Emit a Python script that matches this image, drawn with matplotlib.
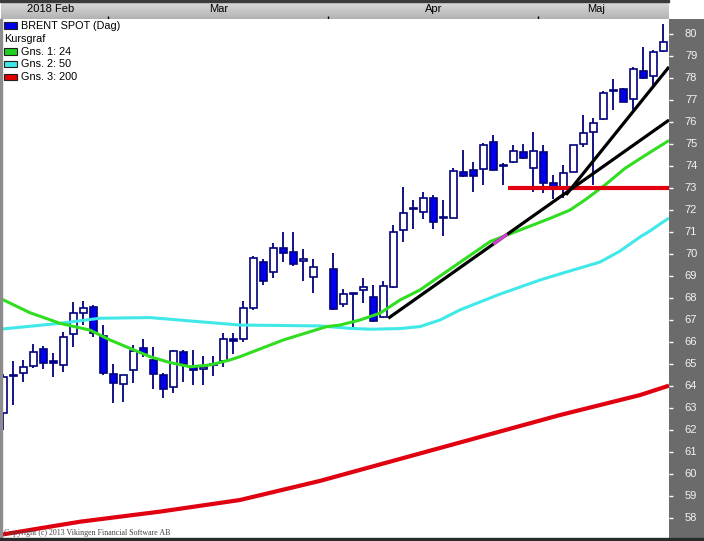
import numpy as np
import matplotlib.pyplot as plt
from matplotlib.patches import Rectangle

plt.rcParams['font.family'] = ['Liberation Sans', 'DejaVu Sans']

W, H = 704, 541

# daily candles (index = trading day slot, 32 = holiday, left empty)
day_idx = [0, 1, 2, 3, 4, 5, 6, 7, 8, 9, 10, 11, 12, 13, 14, 15, 16, 17, 18, 19,
           20, 21, 22, 23, 24, 25, 26, 27, 28, 29, 30, 31, 33, 34, 35, 36, 37, 38, 39, 40,
           41, 42, 43, 44, 45, 46, 47, 48, 49, 50, 51, 52, 53, 54, 55, 56, 57, 58, 59, 60,
           61, 62, 63, 64, 65, 66]
opens = [62.73, 64.43, 64.54, 64.86, 65.64, 65.05, 64.91, 66.32, 67.27, 67.58,
         66.24, 64.51, 64.04, 64.69, 65.68, 65.15, 64.45, 63.90, 65.53, 64.84,
         64.72, 64.95, 65.10, 66.10, 66.09, 67.50, 69.63, 69.14, 70.24, 70.05,
         69.67, 68.94, 69.28, 67.69, 68.20, 68.34, 68.00, 67.09, 68.49, 71.07,
         72.05, 71.88, 72.51, 71.67, 71.63, 73.70, 73.80, 73.84, 75.07, 74.01,
         74.18, 74.61, 73.88, 74.61, 73.20, 73.04, 73.73, 74.97, 75.55, 76.11,
         77.44, 77.49, 77.02, 78.33, 78.09, 79.24]
highs = [64.51, 65.12, 65.15, 65.88, 65.79, 65.45, 66.44, 67.78, 67.84, 67.65,
         66.74, 64.97, 64.47, 65.83, 66.09, 65.73, 64.54, 65.60, 65.60, 65.60,
         65.33, 65.33, 66.36, 66.36, 67.85, 69.89, 69.74, 70.49, 70.99, 70.97,
         70.19, 69.74, 70.01, 68.37, 68.21, 68.87, 68.56, 68.75, 71.30, 73.04,
         72.44, 72.82, 72.67, 72.44, 73.88, 74.72, 74.18, 75.05, 75.40, 74.14,
         74.94, 74.99, 75.55, 74.94, 73.58, 74.03, 74.94, 76.31, 76.16, 77.40,
         77.94, 77.53, 78.48, 79.39, 79.27, 80.46]
lows = [61.96, 63.10, 64.16, 64.80, 64.75, 64.39, 64.62, 65.75, 66.74, 66.21,
        64.46, 63.18, 63.22, 64.09, 65.30, 63.81, 63.40, 63.66, 64.16, 64.01,
        64.01, 64.42, 64.84, 65.42, 65.97, 67.44, 68.56, 68.87, 69.63, 69.44,
        68.76, 68.21, 67.44, 67.58, 66.64, 67.73, 66.89, 67.05, 68.45, 70.54,
        71.10, 71.57, 71.10, 70.80, 71.60, 73.47, 72.82, 73.12, 73.78, 73.12,
        74.11, 74.30, 72.82, 72.74, 72.47, 72.51, 73.70, 74.87, 73.12, 76.08,
        76.54, 76.92, 76.54, 77.95, 77.63, 79.20]
closes = [64.37, 64.47, 64.81, 65.50, 65.03, 65.03, 66.18, 67.27, 67.50, 66.36,
          64.57, 64.11, 64.45, 65.56, 65.48, 64.50, 63.81, 65.56, 64.97, 64.69,
          64.81, 64.90, 66.10, 66.03, 67.50, 69.78, 68.76, 70.24, 70.01, 69.51,
          69.76, 69.37, 67.46, 68.14, 68.17, 68.46, 66.94, 68.52, 70.97, 71.83,
          72.01, 72.51, 71.45, 71.63, 73.76, 73.54, 73.54, 74.94, 73.80, 73.97,
          74.68, 74.34, 74.68, 73.23, 73.04, 73.65, 74.94, 75.48, 75.93, 77.30,
          77.40, 76.92, 78.39, 77.98, 79.19, 79.62]

# moving averages
ma24_x = [-0.33, 2.67, 5.67, 8.67, 10.67, 12.67, 14.67, 16.67, 18.67, 20.67, 22.67, 23.67,
          28.0, 32.34, 33.67, 35.67, 37.67, 39.67, 41.67, 43.67, 46.0, 48.67, 51.67, 54.67,
          56.67, 58.17, 60.17, 62.17, 64.5, 66.57]
ma24_y = [67.96, 67.30, 66.82, 66.51, 66.06, 65.68, 65.30, 65.03, 64.84, 64.92, 65.15, 65.30,
          66.06, 66.67, 66.74, 66.97, 67.28, 67.88, 68.34, 68.97, 69.70, 70.54, 71.07, 71.60,
          71.98, 72.44, 73.12, 73.88, 74.56, 75.15]
ma50_x = [-0.33, 5.67, 9.67, 14.67, 19.67, 23.67, 31.67, 34.67, 36.67, 39.67, 41.67, 43.67,
          45.67, 47.67, 49.67, 51.67, 53.67, 55.67, 57.67, 59.67, 61.67, 63.67, 64.67, 66.57]
ma50_y = [66.55, 66.82, 67.05, 67.08, 66.89, 66.74, 66.70, 66.59, 66.55, 66.58, 66.67, 66.97,
          67.43, 67.79, 68.15, 68.47, 68.79, 69.07, 69.34, 69.61, 70.11, 70.75, 71.03, 71.62]
ma200_x = [-0.33, 7.67, 15.67, 23.67, 31.67, 39.67, 47.67, 55.67, 63.67, 66.57]
ma200_y = [57.18, 57.78, 58.24, 58.77, 59.64, 60.64, 61.64, 62.64, 63.55, 63.98]

# drawn trend lines and support level
trend1 = ([38.5, 66.57], [67.05, 76.08])
trend2 = ([56.27, 66.57], [72.67, 78.50])
support = ([50.45, 66.57], [73.0, 73.0])
cross_mark = ([49.0, 50.4], [70.43, 70.88])  # magenta bit where trend1 meets Gns. 1

month_labels = ['2018 Feb', 'Mar', 'Apr', 'Maj']
month_label_x = [4.7, 21.5, 43.0, 59.3]
month_breaks = [10.5, 32.5, 53.5]
y_ticks = list(range(58, 81))

legend_items = [('BRENT SPOT (Dag)', '#0000e8'), ('Kursgraf', None),
                ('Gns. 1: 24', '#20d020'), ('Gns. 2: 50', '#40e8e8'), ('Gns. 3: 200', '#e00000')]

XLIM = (-0.23, 66.57)
YLIM = (57.084, 80.683)


def box(x0, y0, x1, y1):
    # pixel box (top-left origin) -> figure fraction rect
    return [x0 / W, 1 - y1 / H, (x1 - x0) / W, (y1 - y0) / H]


fig = plt.figure(figsize=(W / 100, H / 100), dpi=100)

##### main price panel #####
ax = fig.add_axes(box(1, 19, 669, 537))
ax.set_xlim(*XLIM)
ax.set_ylim(*YLIM)
ax.set_xticks([])
ax.set_yticks([])
for s in ax.spines.values():
    s.set_visible(False)

o = np.array(opens)
c = np.array(closes)
up = c >= o
bottom = np.minimum(o, c)
height = np.maximum(np.abs(c - o), 0.05)
ax.vlines(day_idx, lows, highs, color='#00007a', lw=1.3, zorder=2)
ax.bar(day_idx, height, bottom=bottom, width=0.7,
       color=np.where(up, 'white', '#0000ee'), edgecolor='#00007a', lw=1.2, zorder=3)

ax.plot(ma200_x, ma200_y, color='#e00010', lw=3.0, zorder=4, solid_capstyle='butt')
ax.plot(ma50_x, ma50_y, color='#40e8e8', lw=2.2, zorder=4, solid_capstyle='butt')
ax.plot(ma24_x, ma24_y, color='#30dd20', lw=2.2, zorder=4, solid_capstyle='butt')
ax.plot(*support, color='#e00010', lw=3.0, zorder=4, solid_capstyle='butt')
ax.plot(*trend1, color='black', lw=2.3, zorder=5, solid_capstyle='butt')
ax.plot(*trend2, color='black', lw=2.3, zorder=5, solid_capstyle='butt')
ax.plot(*cross_mark, color='#d040d0', lw=2.3, zorder=6, solid_capstyle='butt')

ax.text(0.1, 57.28, 'Copyright (c) 2013 Vikingen Financial Software AB', fontsize=5.7,
        family='Liberation Serif', color='#404040', va='center', ha='left', zorder=6)

##### header with months #####
hax = fig.add_axes(box(1, 1, 669, 19))
hax.set_xlim(*XLIM)
hax.set_ylim(0, 1)
grad = np.linspace(0, 1, 50).reshape(-1, 1)
hax.imshow(grad, cmap=plt.matplotlib.colors.LinearSegmentedColormap.from_list('g', ['#b2b2b2', '#dcdcdc']),
           extent=[XLIM[0], XLIM[1], 0, 1], aspect='auto', origin='lower')
for lab, xp in zip(month_labels, month_label_x):
    hax.text(xp, 0.55, lab, fontsize=8, ha='center', va='center', color='black')
hax.vlines(month_breaks, 0, 0.18, color='black', lw=1)
hax.set_xticks([])
hax.set_yticks([])
for s in hax.spines.values():
    s.set_visible(False)

##### right price scale #####
rax = fig.add_axes(box(669, 19, 704, 538), facecolor='#6b6b6b')
rax.set_ylim(*YLIM)
rax.set_xlim(0, 1)
rax.set_xticks([])
rax.set_yticks(y_ticks)
rax.tick_params(axis='y', direction='in', length=3, width=1, color='white', labelleft=False)
for v in y_ticks:
    rax.text(0.63, v, str(v), fontsize=8, color='#f4f4f4', ha='center', va='center')
for s in rax.spines.values():
    s.set_visible(False)

##### frame lines and legend #####
fig.patches.append(Rectangle((0, 1 - 1.5 / H), 669 / W, 1.5 / H, transform=fig.transFigure,
                             color='#3a3a3a', zorder=5))
fig.patches.append(Rectangle((0, 3 / H), 1.5 / W, 1 - 22 / H, transform=fig.transFigure,
                             color='#8c8c8c', zorder=5))
fig.patches.append(Rectangle((0, 0), 1, 3 / H, transform=fig.transFigure,
                             color='#2a2a2a', zorder=5))

row_y = [26, 39.3, 51.7, 64.3, 77.3]
for (lab, col), yy in zip(legend_items, row_y):
    if col is None:
        fig.text(4 / W, 1 - yy / H, lab, fontsize=7.8, va='center', ha='left')
        continue
    fig.patches.append(Rectangle((4 / W, 1 - (yy + 3) / H), 13 / W, 6.5 / H,
                                 transform=fig.transFigure, facecolor=col,
                                 edgecolor='#202020', lw=0.8, zorder=6))
    fig.text(21 / W, 1 - yy / H, lab, fontsize=7.8, va='center', ha='left')

fig.savefig('out.png', dpi=100)
